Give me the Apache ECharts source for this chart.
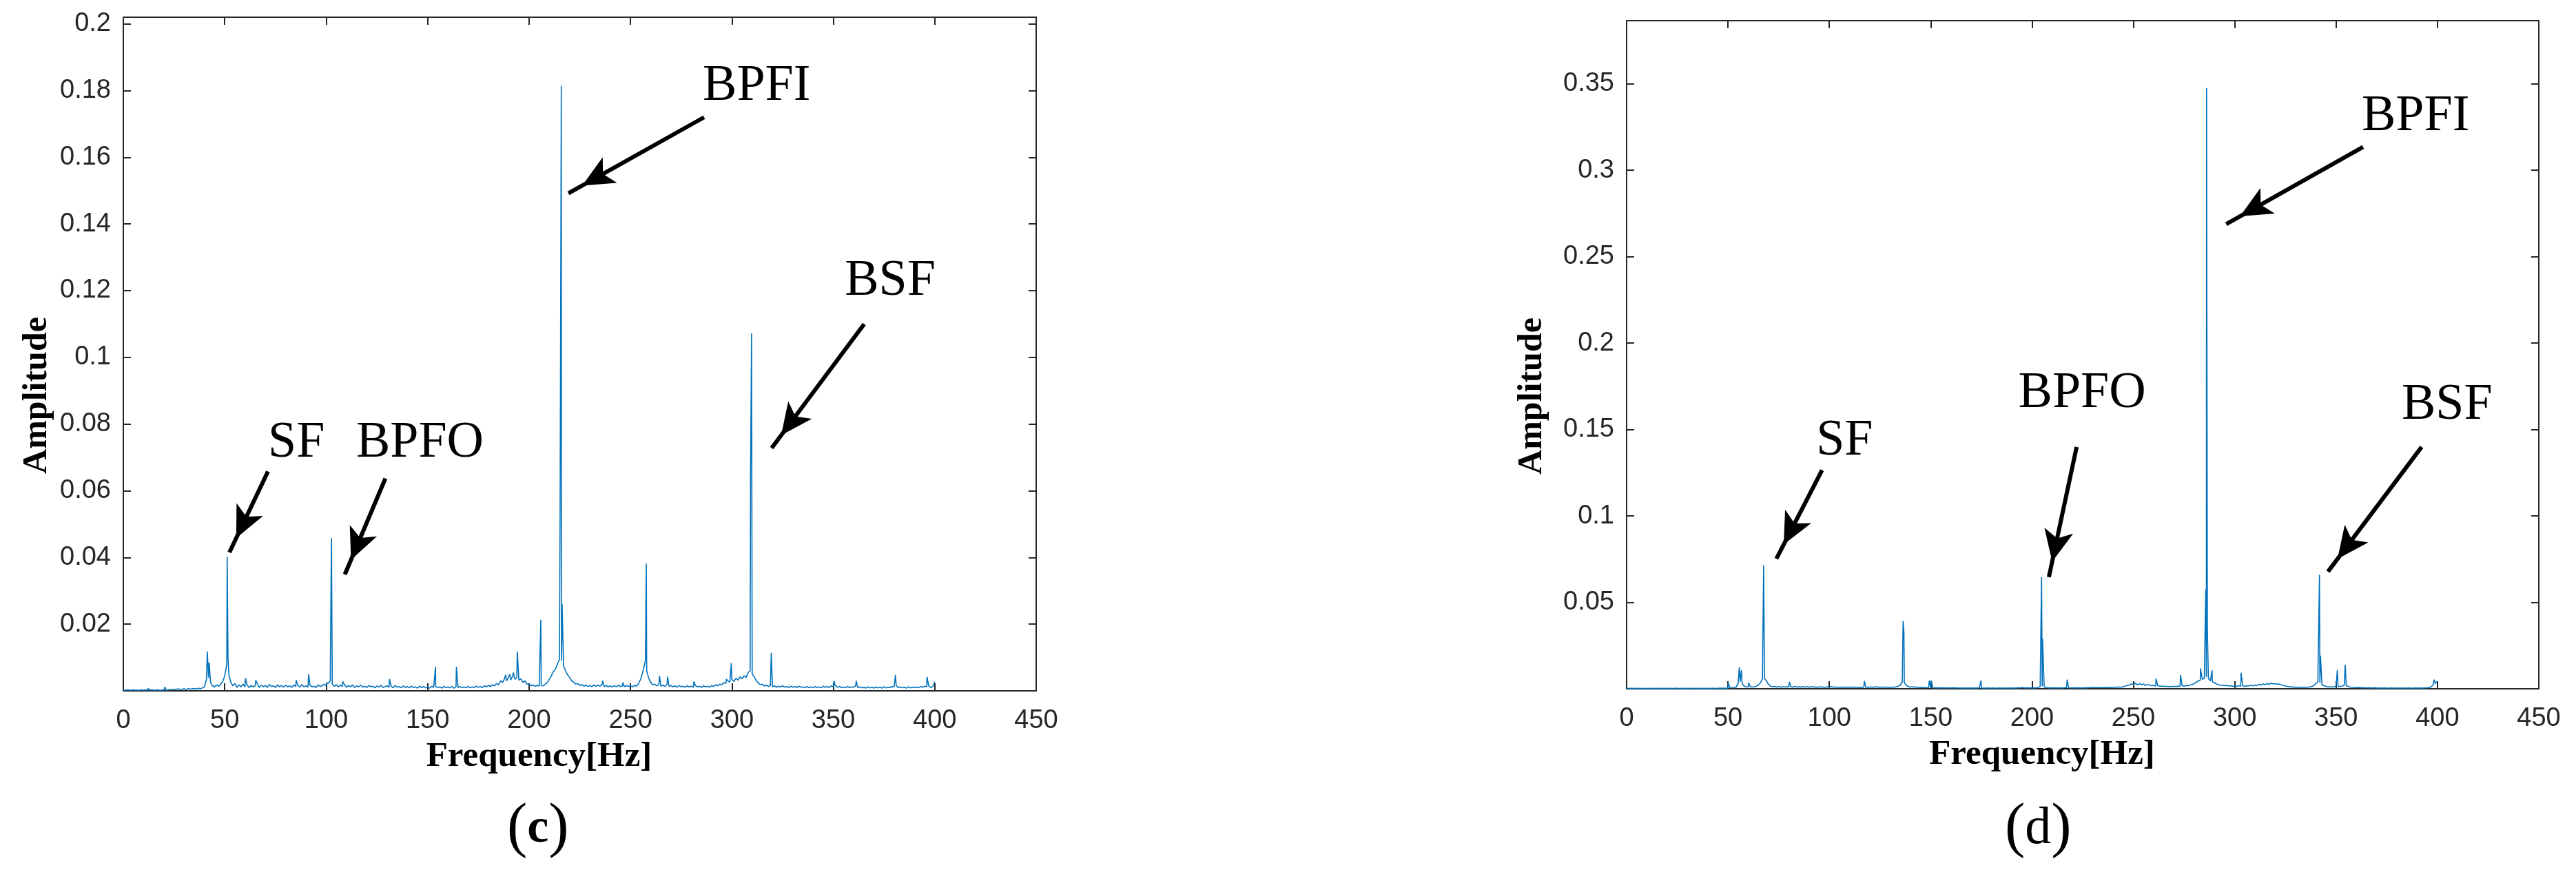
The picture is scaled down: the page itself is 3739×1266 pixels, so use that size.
<!DOCTYPE html>
<html><head><meta charset="utf-8">
<script src="https://cdn.jsdelivr.net/npm/echarts@6/dist/echarts.min.js"></script>
<style>html,body{margin:0;padding:0;background:#fff}#c{width:3739px;height:1266px}</style>
</head><body><div id="c"></div>
<script>
// ---------- panel (c): noise floor sampled at 1 Hz (index = Hz, 0..400) ----------
const noiseC = [
0.0002,0.0002,0.0003,0.0002,0.0002,0.0003,0.0002,0.0002,0.0002,0.0003,
0.0002,0.0003,0.0002,0.0002,0.0003,0.0002,0.0002,0.0003,0.0002,0.0002,
0.0003,0.0002,0.0003,0.0004,0.0003,0.0005,0.0004,0.0006,0.0004,0.0005,
0.0006,0.0004,0.0007,0.0005,0.0006,0.0007,0.0005,0.0008,0.0006,0.0009,
0.0012,0.0035,0.0040,0.0025,0.0015,0.0012,0.0018,0.0013,0.0020,0.0028,
0.0045,0.0080,0.0050,0.0025,0.0015,0.0022,0.0010,0.0018,0.0012,0.0020,
0.0012,0.0018,0.0010,0.0016,0.0012,0.0015,0.0022,0.0010,0.0017,0.0012,
0.0016,0.0010,0.0019,0.0013,0.0015,0.0010,0.0018,0.0012,0.0016,0.0011,
0.0017,0.0012,0.0015,0.0010,0.0018,0.0013,0.0016,0.0011,0.0019,0.0012,
0.0015,0.0011,0.0017,0.0012,0.0014,0.0010,0.0018,0.0013,0.0016,0.0020,
0.0015,0.0022,0.0030,0.0020,0.0014,0.0018,0.0012,0.0017,0.0013,0.0019,
0.0011,0.0016,0.0012,0.0018,0.0010,0.0015,0.0012,0.0017,0.0011,0.0014,
0.0010,0.0016,0.0012,0.0014,0.0009,0.0015,0.0011,0.0017,0.0010,0.0013,
0.0015,0.0011,0.0014,0.0009,0.0016,0.0011,0.0013,0.0009,0.0015,0.0010,
0.0013,0.0009,0.0014,0.0010,0.0012,0.0008,0.0014,0.0010,0.0013,0.0009,
0.0012,0.0008,0.0014,0.0010,0.0013,0.0009,0.0012,0.0008,0.0013,0.0010,
0.0012,0.0009,0.0013,0.0008,0.0012,0.0010,0.0013,0.0009,0.0012,0.0010,
0.0013,0.0009,0.0012,0.0010,0.0014,0.0011,0.0013,0.0010,0.0015,0.0012,
0.0016,0.0013,0.0018,0.0015,0.0022,0.0018,0.0030,0.0025,0.0038,0.0030,
0.0042,0.0033,0.0045,0.0035,0.0040,0.0032,0.0036,0.0025,0.0030,0.0020,
0.0022,0.0015,0.0018,0.0013,0.0017,0.0014,0.0016,0.0015,0.0020,0.0025,
0.0035,0.0045,0.0058,0.0065,0.0080,0.0095,0.0090,0.0075,0.0060,0.0048,
0.0040,0.0030,0.0026,0.0020,0.0022,0.0016,0.0019,0.0014,0.0017,0.0013,
0.0016,0.0012,0.0018,0.0013,0.0017,0.0014,0.0019,0.0013,0.0016,0.0012,
0.0015,0.0011,0.0016,0.0012,0.0017,0.0013,0.0015,0.0012,0.0016,0.0013,
0.0015,0.0012,0.0017,0.0014,0.0022,0.0035,0.0055,0.0080,0.0060,0.0038,
0.0025,0.0018,0.0020,0.0015,0.0018,0.0014,0.0017,0.0013,0.0019,0.0014,
0.0016,0.0012,0.0015,0.0011,0.0016,0.0012,0.0014,0.0011,0.0015,0.0012,
0.0014,0.0011,0.0016,0.0012,0.0014,0.0010,0.0015,0.0012,0.0014,0.0011,
0.0016,0.0013,0.0018,0.0015,0.0020,0.0018,0.0025,0.0022,0.0030,0.0026,
0.0035,0.0028,0.0038,0.0032,0.0042,0.0036,0.0045,0.0040,0.0055,0.0060,
0.0050,0.0042,0.0030,0.0024,0.0018,0.0020,0.0014,0.0017,0.0013,0.0016,
0.0012,0.0015,0.0011,0.0014,0.0012,0.0015,0.0011,0.0013,0.0010,0.0014,
0.0011,0.0013,0.0010,0.0014,0.0011,0.0012,0.0009,0.0013,0.0010,0.0012,
0.0009,0.0013,0.0010,0.0012,0.0009,0.0014,0.0011,0.0013,0.0010,0.0015,
0.0012,0.0016,0.0011,0.0013,0.0010,0.0012,0.0009,0.0013,0.0010,0.0012,
0.0011,0.0015,0.0010,0.0012,0.0009,0.0011,0.0008,0.0012,0.0009,0.0011,
0.0008,0.0012,0.0009,0.0011,0.0008,0.0012,0.0009,0.0011,0.0010,0.0013,
0.0012,0.0016,0.0010,0.0012,0.0009,0.0011,0.0008,0.0012,0.0009,0.0011,
0.0010,0.0012,0.0009,0.0013,0.0011,0.0014,0.0012,0.0015,0.0010,0.0013,
0.0028
];
// ---------- panel (c): spectral lines [Hz, amplitude] ----------
const peaksC = [
[12.3,0.0008],[20.6,0.0012],[41.4,0.0118],[42.3,0.0085],[51.2,0.0402],[51.6,0.0100],[60.2,0.0038],
[65.3,0.0032],[85.2,0.0032],[91.4,0.0050],[100.3,0.0025],[102.6,0.0458],[108.2,0.0028],[131.2,0.0035],
[153.9,0.0072],[164.2,0.0072],[188.4,0.0048],[190.4,0.0050],[192.3,0.0055],[194.2,0.0118],[205.8,0.0213],
[215.3,0.0520],[215.9,0.1814],[216.3,0.0260],[236.3,0.0030],[246.3,0.0025],[257.4,0.0095],[257.8,0.0381],
[264.3,0.0045],[268.3,0.0042],[281.3,0.0028],[297.3,0.0035],[299.7,0.0083],[309.2,0.0654],[309.7,0.1072],
[319.4,0.0114],[350.3,0.0030],[361.3,0.0030],[380.6,0.0048],[396.2,0.0042]
];
// ---------- panel (d): noise floor sampled at 1 Hz (index = Hz, 0..400) ----------
const noiseD = [
0.0003,0.0002,0.0003,0.0002,0.0003,0.0002,0.0003,0.0002,0.0002,0.0003,
0.0002,0.0003,0.0002,0.0003,0.0002,0.0002,0.0003,0.0002,0.0003,0.0002,
0.0003,0.0002,0.0003,0.0002,0.0003,0.0003,0.0002,0.0003,0.0002,0.0003,
0.0002,0.0003,0.0002,0.0003,0.0003,0.0002,0.0003,0.0002,0.0003,0.0002,
0.0003,0.0002,0.0003,0.0003,0.0002,0.0003,0.0004,0.0003,0.0004,0.0003,
0.0004,0.0005,0.0006,0.0007,0.0010,0.0030,0.0040,0.0030,0.0015,0.0012,
0.0010,0.0013,0.0010,0.0012,0.0015,0.0022,0.0035,0.0055,0.0060,0.0045,
0.0025,0.0015,0.0012,0.0014,0.0010,0.0013,0.0009,0.0012,0.0010,0.0013,
0.0010,0.0012,0.0009,0.0014,0.0010,0.0012,0.0009,0.0013,0.0010,0.0012,
0.0009,0.0013,0.0010,0.0011,0.0008,0.0012,0.0009,0.0011,0.0008,0.0012,
0.0010,0.0013,0.0009,0.0011,0.0008,0.0010,0.0007,0.0011,0.0008,0.0010,
0.0008,0.0011,0.0007,0.0010,0.0008,0.0009,0.0007,0.0010,0.0008,0.0010,
0.0009,0.0011,0.0008,0.0012,0.0009,0.0010,0.0008,0.0011,0.0009,0.0010,
0.0008,0.0010,0.0009,0.0012,0.0015,0.0022,0.0040,0.0035,0.0020,0.0012,
0.0010,0.0012,0.0009,0.0011,0.0008,0.0009,0.0007,0.0008,0.0006,0.0007,
0.0006,0.0007,0.0005,0.0006,0.0005,0.0006,0.0005,0.0006,0.0005,0.0005,
0.0005,0.0006,0.0005,0.0005,0.0004,0.0005,0.0004,0.0005,0.0004,0.0005,
0.0004,0.0005,0.0004,0.0005,0.0004,0.0005,0.0004,0.0004,0.0005,0.0004,
0.0004,0.0005,0.0004,0.0004,0.0005,0.0004,0.0005,0.0004,0.0004,0.0005,
0.0004,0.0005,0.0004,0.0006,0.0005,0.0008,0.0005,0.0006,0.0005,0.0006,
0.0005,0.0006,0.0005,0.0008,0.0012,0.0015,0.0010,0.0007,0.0006,0.0005,
0.0005,0.0006,0.0005,0.0005,0.0006,0.0005,0.0006,0.0007,0.0006,0.0005,
0.0005,0.0006,0.0005,0.0006,0.0005,0.0006,0.0005,0.0007,0.0006,0.0008,
0.0007,0.0009,0.0007,0.0008,0.0006,0.0008,0.0007,0.0008,0.0007,0.0009,
0.0008,0.0010,0.0008,0.0011,0.0009,0.0012,0.0015,0.0020,0.0022,0.0028,
0.0025,0.0032,0.0022,0.0030,0.0024,0.0028,0.0020,0.0025,0.0022,0.0018,
0.0020,0.0016,0.0018,0.0014,0.0016,0.0013,0.0015,0.0012,0.0014,0.0012,
0.0015,0.0012,0.0016,0.0014,0.0018,0.0015,0.0020,0.0017,0.0022,0.0025,
0.0030,0.0038,0.0045,0.0050,0.0055,0.0060,0.0070,0.0060,0.0045,0.0040,
0.0035,0.0028,0.0024,0.0020,0.0022,0.0018,0.0020,0.0016,0.0018,0.0015,
0.0017,0.0014,0.0018,0.0015,0.0017,0.0014,0.0018,0.0016,0.0020,0.0017,
0.0022,0.0019,0.0025,0.0022,0.0028,0.0024,0.0030,0.0026,0.0033,0.0028,
0.0030,0.0026,0.0028,0.0022,0.0020,0.0016,0.0014,0.0011,0.0012,0.0009,
0.0010,0.0008,0.0009,0.0008,0.0010,0.0008,0.0009,0.0011,0.0013,0.0018,
0.0030,0.0040,0.0035,0.0025,0.0018,0.0014,0.0011,0.0012,0.0010,0.0012,
0.0015,0.0012,0.0014,0.0016,0.0020,0.0018,0.0013,0.0010,0.0009,0.0008,
0.0007,0.0008,0.0006,0.0007,0.0006,0.0005,0.0006,0.0005,0.0005,0.0006,
0.0005,0.0004,0.0005,0.0004,0.0005,0.0004,0.0004,0.0005,0.0004,0.0004,
0.0005,0.0004,0.0004,0.0005,0.0004,0.0004,0.0005,0.0004,0.0004,0.0005,
0.0004,0.0005,0.0004,0.0005,0.0005,0.0006,0.0007,0.0012,0.0025,0.0030,
0.0045
];
// ---------- panel (d): spectral lines [Hz, amplitude] ----------
const peaksD = [
[25.3,0.0010],[50.1,0.0035],[55.6,0.0125],[56.6,0.0107],[60.2,0.0035],[67.6,0.0713],[67.9,0.0713],
[80.3,0.0040],[117.3,0.0045],[136.4,0.0392],[136.8,0.0326],[149.3,0.0048],[150.3,0.0048],[174.8,0.0048],
[204.7,0.0646],[205.2,0.0290],[217.4,0.0053],[231.3,0.0015],[261.2,0.0059],[273.3,0.0080],[283.1,0.0117],
[285.7,0.0574],[286.1,0.3476],[286.5,0.0340],[288.8,0.0107],[303.1,0.0093],[341.8,0.0659],[342.3,0.0192],
[350.6,0.0107],[354.5,0.0139],[398.3,0.0053]
];
// ---------- annotations (data coordinates) ----------
const labelsC = ['SF','BPFO','BPFI','BSF'];
const textPosC = [[85.3,0.0742],[146.2,0.0742],[312.2,0.1813],[378.0,0.1228]];
const arrowTailC = [[71.3,0.0658],[129.2,0.0637],[286.3,0.172],[365.2,0.110]];
const arrowHeadC = [[52.3,0.0415],[109.2,0.0349],[219.4,0.1492],[319.6,0.0728]];

const labelsD = ['SF','BPFO','BPFI','BSF'];
const textPosD = [[107.5,0.1432],[224.7,0.1707],[389.2,0.3309],[404.7,0.1640]];
const arrowTailD = [[96.4,0.1265],[222.0,0.1399],[363.3,0.3134],[392.2,0.1399]];
const arrowHeadD = [[73.9,0.0753],[208.3,0.0646],[295.8,0.2688],[346.0,0.0678]];

// ---------- axes ----------
const xTicks = [0,50,100,150,200,250,300,350,400,450];
const xAxisTitle = 'Frequency[Hz]';
const yAxisTitle = 'Amplitude';
const panelTags = ['c','d'];

const AX = '#262626';
const SERIF = "'Liberation Serif','Times New Roman',serif";
const SANS = "'Liberation Sans',Arial,Helvetica,sans-serif";

function buildSpectrum(noise, peaks){
  return noise.map((v,i)=>[i,v]).concat(peaks).sort((a,b)=>a[0]-b[0]);
}
function yfmt(step){
  return function(v){
    if (v <= 1e-12) return '';
    const k = Math.round(v/step);
    if (Math.abs(k*step - v) > 1e-9) return '';
    return String(parseFloat((k*step).toFixed(3)));
  };
}
function xAxes(gi){
  const common = {type:'value', gridIndex:gi, min:xTicks[0], max:xTicks[xTicks.length-1], interval:xTicks[1]-xTicks[0],
    splitLine:{show:false},
    axisLine:{show:true, onZero:false, lineStyle:{color:AX,width:2}},
    axisTick:{show:true, inside:true, length:11, lineStyle:{color:AX,width:2}}};
  return [
    Object.assign({}, common, {position:'bottom',
      axisLabel:{margin:25, fontSize:38, fontFamily:SANS, color:AX},
      name:xAxisTitle, nameLocation:'middle', nameGap:70,
      nameTextStyle:{fontFamily:SERIF, fontWeight:'bold', fontSize:51, color:'#000', padding:[0,118,0,0]}}),
    Object.assign({}, common, {position:'top', axisLabel:{show:false}})
  ];
}
function yAxes(gi, ymax, step, gap){
  const common = {type:'value', gridIndex:gi, min:0, max:ymax, interval:step,
    splitLine:{show:false},
    axisLine:{show:true, onZero:false, lineStyle:{color:AX,width:2}},
    axisTick:{show:true, inside:true, length:11, lineStyle:{color:AX,width:2}}};
  return [
    Object.assign({}, common, {position:'left',
      axisLabel:{margin:18, fontSize:38, fontFamily:SANS, color:AX, formatter:yfmt(step), showMaxLabel:true},
      name:yAxisTitle, nameLocation:'middle', nameGap:gap, nameRotate:90,
      nameTextStyle:{fontFamily:SERIF, fontWeight:'bold', fontSize:50, color:'#000', padding:[0,120,0,0]}}),
    Object.assign({}, common, {position:'right', axisLabel:{show:false}})
  ];
}
function spectrumSeries(data, axIdx, labels, textPos, tails, heads){
  return {
    type:'line', xAxisIndex:axIdx, yAxisIndex:axIdx, data:data,
    showSymbol:false, symbol:'none', silent:true,
    lineStyle:{color:'#0072BD', width:1.6}, itemStyle:{color:'#0072BD'},
    markLine:{
      silent:true, symbol:['none','arrow'], symbolSize:[32,46], symbolOffset:[[0,0],[0,23]],
      label:{show:false}, emphasis:{disabled:true},
      lineStyle:{color:'#000', width:6, type:'solid'},
      data: tails.map((t,i)=>[{coord:t},{coord:heads[i]}])
    },
    markPoint:{
      silent:true, symbol:'circle', symbolSize:1, itemStyle:{color:'rgba(0,0,0,0)'},
      label:{show:true, position:'inside', formatter:'{b}', fontFamily:SERIF, fontSize:74, color:'#000'},
      data: labels.map((n,i)=>({name:n, coord:textPos[i]}))
    }
  };
}

const chart = echarts.init(document.getElementById('c'), null, {renderer:'canvas'});
chart.setOption({
  animation:false,
  backgroundColor:'#fff',
  grid:[
    {left:179, top:25, width:1325, height:978},
    {left:2361, top:30, width:1324, height:970}
  ],
  xAxis:[].concat(xAxes(0), xAxes(1)),
  yAxis:[].concat(yAxes(0, 0.202, 0.02, 100), yAxes(1, 0.3865, 0.05, 112)),
  series:[
    spectrumSeries(buildSpectrum(noiseC, peaksC), 0, labelsC, textPosC, arrowTailC, arrowHeadC),
    spectrumSeries(buildSpectrum(noiseD, peaksD), 2, labelsD, textPosD, arrowTailD, arrowHeadD)
  ],
  graphic:[
    {type:'text', left:781-45, top:1160, style:{text:'{p|(}{b|'+panelTags[0]+'}{p|)}', rich:{
      p:{fontFamily:SERIF, fontSize:88, fill:'#000'}, b:{fontFamily:SERIF, fontSize:70, fontWeight:'bold', fill:'#000'}}}},
    {type:'text', left:2960-50, top:1160, style:{text:'{p|(}{b|'+panelTags[1]+'}{p|)}', rich:{
      p:{fontFamily:SERIF, fontSize:88, fill:'#000'}, b:{fontFamily:SERIF, fontSize:76, fill:'#000'}}}}
  ]
});
</script></body></html>
